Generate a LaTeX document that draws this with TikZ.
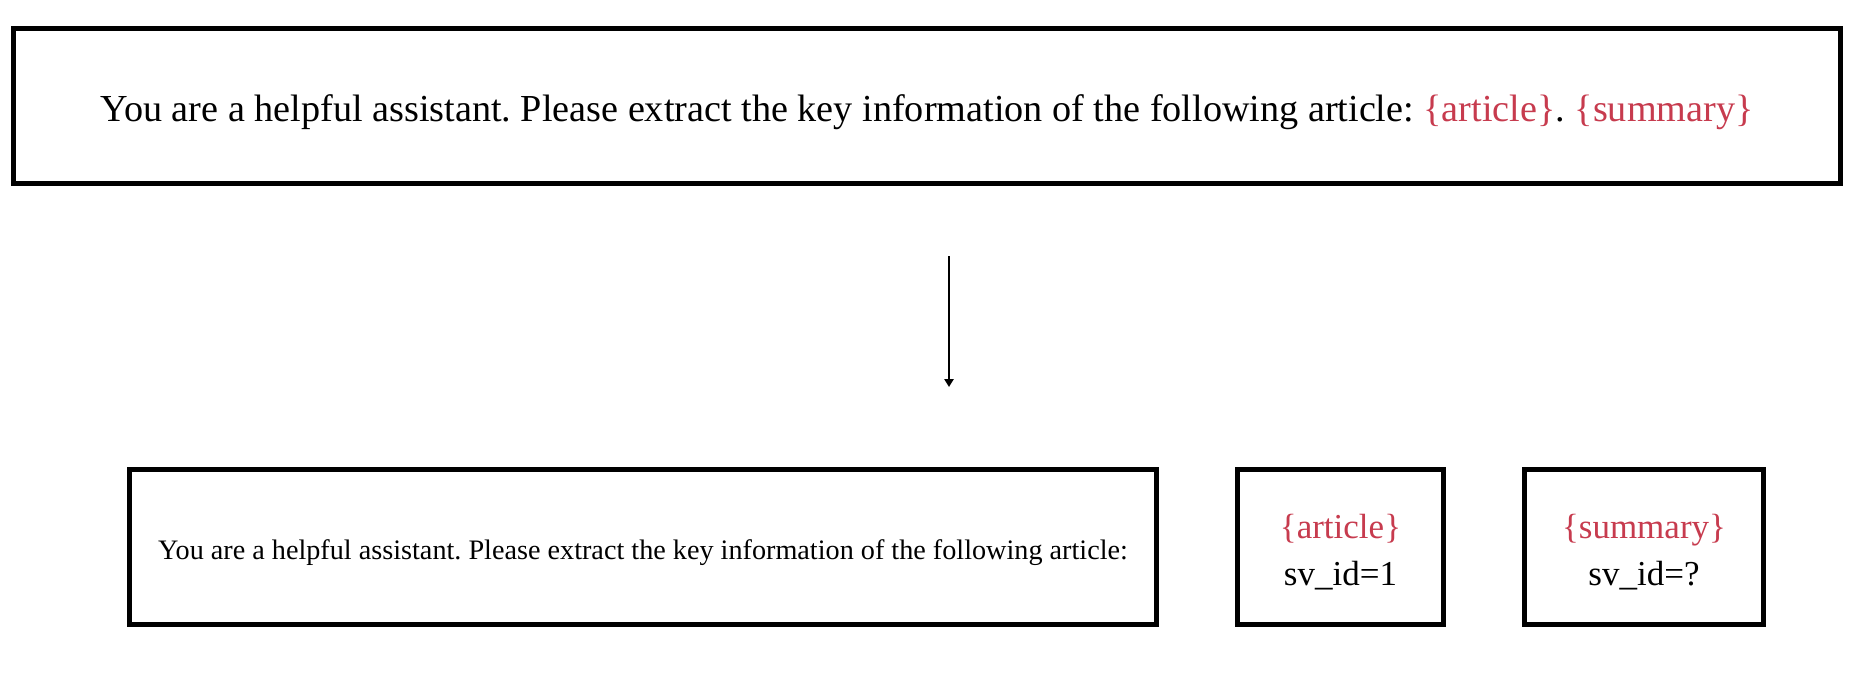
\documentclass[tikz,border=0pt]{standalone}
\usepackage{fontspec}
\setmainfont{Liberation Serif}
\usetikzlibrary{arrows.meta}
\definecolor{varred}{RGB}{199,59,78}
\newcommand{\lowtext}[1]{\raisebox{-3pt}[\height][\depth]{#1}}
\begin{document}
\frenchspacing
\begin{tikzpicture}[x=0.5pt,y=-0.5pt,
  box/.style={draw=black,line width=2.35pt,inner sep=0pt,minimum height=77.65pt,align=center},
  flow/.style={line width=1.1pt,-{Triangle[length=4pt,width=4.6pt]}}]
\useasboundingbox[fill=white] (0,0) rectangle (1854,692);
\node[box,minimum width=913.65pt,font=\fontsize{19.1}{23}\selectfont] (top) at (927,106)
  {\lowtext{You are a helpful assistant. Please extract the key information of the following article: \textcolor{varred}{\{article\}}. \textcolor{varred}{\{summary\}}}};
\node[box,minimum width=513.65pt,font=\fontsize{14.1}{17}\selectfont] (prefix) at (643,547)
  {\lowtext{You are a helpful assistant. Please extract the key information of the following article:}};
\node[box,minimum width=103.15pt,font=\fontsize{17.5}{23.5}\selectfont] (article) at (1340.5,547)
  {\lowtext{\begin{tabular}{@{}c@{}}\textcolor{varred}{\{article\}}\\sv\_id=1\end{tabular}}};
\node[box,minimum width=119.65pt,font=\fontsize{17.5}{23.5}\selectfont] (summary) at (1644,547)
  {\lowtext{\begin{tabular}{@{}c@{}}\textcolor{varred}{\{summary\}}\\sv\_id=?\end{tabular}}};
\coordinate (astart) at (949,256);
\coordinate (aend) at (949,387);
\draw[flow] (astart) -- (aend);
\end{tikzpicture}
\end{document}
